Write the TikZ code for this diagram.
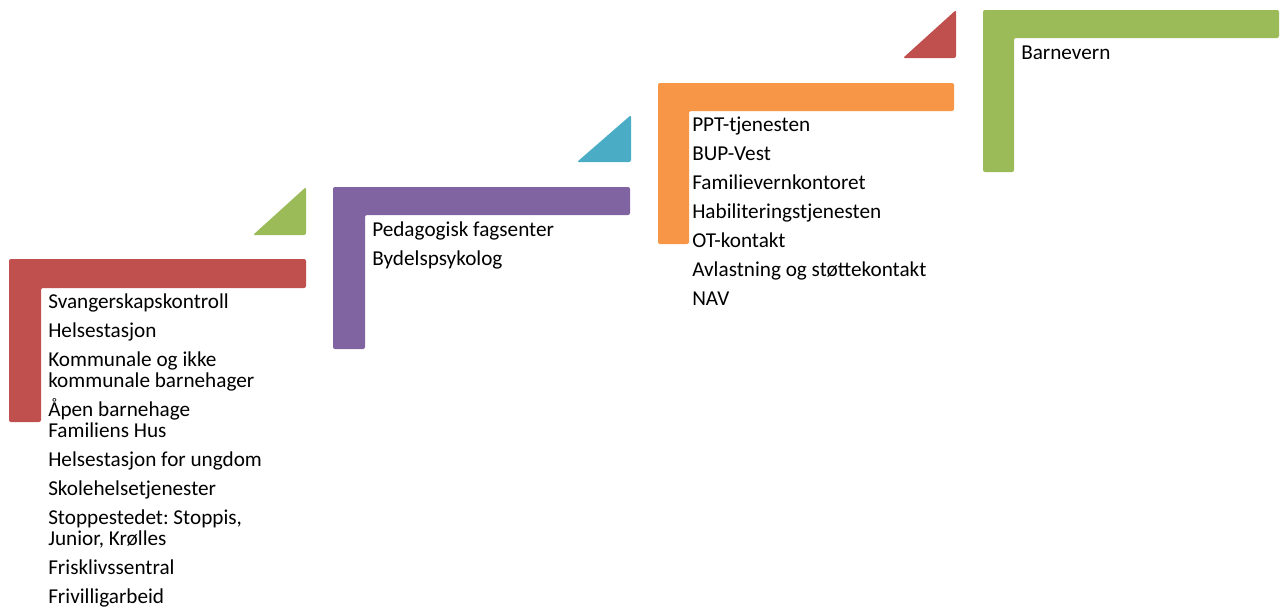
\documentclass[tikz,border=0pt]{standalone}
\usepackage{fontspec}
\setmainfont{Carlito}
\frenchspacing
\definecolor{stepred}{HTML}{C0504D}
\definecolor{stepgreen}{HTML}{9BBB59}
\definecolor{steppurple}{HTML}{8064A2}
\definecolor{stepblue}{HTML}{4BACC6}
\definecolor{steporange}{HTML}{F79646}
\tikzset{
	stepbar/.style={rounded corners=1.5pt},
	item/.style={anchor=base west, inner sep=0pt, font=\fontsize{15.9}{18}\selectfont}
}
\begin{document}
\begin{tikzpicture}[x=0.75pt, y=-0.75pt]
		
		\useasboundingbox (0,0) rectangle (1283,607);
		
		% steps
		\fill[stepbar, stepred] (9,259) -- (306,259) -- (306,288) -- (41,288) -- (41,422) -- (9,422) -- cycle;
		\fill[stepbar, steppurple] (333,187) -- (630,187) -- (630,215) -- (365,215) -- (365,349) -- (333,349) -- cycle;
		\fill[stepbar, steporange] (658,83) -- (954,83) -- (954,111) -- (689,111) -- (689,244) -- (658,244) -- cycle;
		\fill[stepbar, stepgreen] (983,10) -- (1279,10) -- (1279,38) -- (1014,38) -- (1014,172) -- (983,172) -- cycle;
		
		% triangles
		\fill[stepbar, stepgreen] (253,235) -- (306,235) -- (306,187) -- cycle;
		\fill[stepbar, stepblue] (577,162) -- (631,162) -- (631,115) -- cycle;
		\fill[stepbar, stepred] (903,58) -- (956,58) -- (956,10) -- cycle;
		
		% first step
		\node[item] (r1) at (48,308) {Svangerskapskontroll};
		\node[item] (r2) at (48,337) {Helsestasjon};
		\node[item] (r3) at (48,366) {Kommunale og ikke};
		\node[item] (r3b) at (48,387) {kommunale barnehager};
		\node[item] (r4) at (48,416) {Åpen barnehage};
		\node[item] (r4b) at (48,437) {Familiens Hus};
		\node[item] (r5) at (48,466) {Helsestasjon for ungdom};
		\node[item] (r6) at (48,495) {Skolehelsetjenester};
		\node[item] (r7) at (48,524) {Stoppestedet: Stoppis,};
		\node[item] (r7b) at (48,545) {Junior, Krølles};
		\node[item] (r8) at (48,574) {Frisklivssentral};
		\node[item] (r9) at (48,603) {Frivilligarbeid};
		
		% second step
		\node[item] (p1) at (372,236) {Pedagogisk fagsenter};
		\node[item] (p2) at (372,265) {Bydelspsykolog};
		
		% third step
		\node[item] (o1) at (692,131) {PPT-tjenesten};
		\node[item] (o2) at (692,160) {BUP-Vest};
		\node[item] (o3) at (692,189) {Familievernkontoret};
		\node[item] (o4) at (692,218) {Habiliteringstjenesten};
		\node[item] (o5) at (692,247) {OT-kontakt};
		\node[item] (o6) at (692,276) {Avlastning og støttekontakt};
		\node[item] (o7) at (692,305) {NAV};
		
		% fourth step
		\node[item] (g1) at (1021,59) {Barnevern};
		
	\end{tikzpicture}
\end{document}
